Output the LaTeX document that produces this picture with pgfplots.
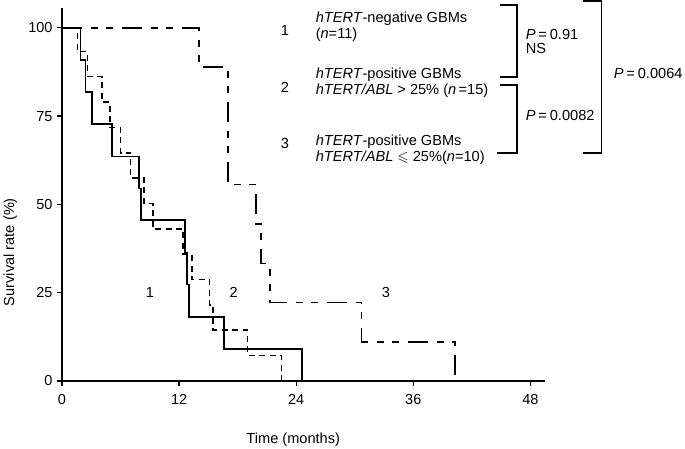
\documentclass[border=0pt]{standalone}
\usepackage{amssymb}
\usepackage{fontspec}
\setmainfont{Liberation Sans}
\usepackage{pgfplots}
\pgfplotsset{compat=1.18}

\begin{document}
\begin{tikzpicture}[font=\fontsize{14.6}{17}\selectfont]
  \useasboundingbox (-62pt,-67pt) rectangle (623pt,381pt);
  \begin{axis}[at={(0pt,0pt)}, anchor=south west, scale only axis,
      width=483pt, height=373pt,
      xmin=0, xmax=49.5, ymin=0, ymax=105.6,
      axis lines=left, axis line style={line width=1.6pt, -},
      xtick={0,12,24,36,48}, ytick={0,25,50,75,100},
      tick align=outside, major tick length=5pt,
      tick style={line width=1.3pt, black},
      tick label style={font=\fontsize{14.5}{17}\selectfont},
      xticklabel style={yshift=-5pt},
      yticklabel style={xshift=-1pt},
      /pgf/number format/assume math mode=true,
      xlabel={Time (months)}, ylabel={Survival rate (\%)},
      x label style={at={(axis cs:23.7,-16.7)}, anchor=center},
      y label style={at={(axis cs:-5.3,36.5)}, anchor=center},
      clip=false]

    % 1: hTERT-negative (solid)
    \addplot[black, line width=1.7pt] coordinates {
      (0,100) (1.9,100) (1.9,90.9) (2.4,90.9) (2.4,81.8) (3.1,81.8)
      (3.1,72.7) (5.1,72.7) (5.1,63.6) (7.9,63.6) (7.9,54.5) (8.1,54.5)
      (8.1,45.5) (12.6,45.5) (12.6,36.4) (12.8,36.4) (12.8,27.3) (13.0,27.3)
      (13.0,18.2) (16.6,18.2) (16.6,9.1) (24.6,9.1) (24.6,0)
    };

    % 2: hTERT/ABL > 25% (short dashes)
    \addplot[black, line width=1.6pt, dash pattern=on 6pt off 4.5pt] coordinates {
      (0,100) (1.6,100) (1.6,93.3) (2.6,93.3) (2.6,86.2) (4.1,86.2)
      (4.1,79.0) (4.9,79.0) (4.9,71.8) (6.0,71.8) (6.0,64.6) (7.0,64.6)
      (7.0,57.4) (8.4,57.4) (8.4,50.3) (9.3,50.3) (9.3,43.1) (12.4,43.1)
      (12.4,35.9) (13.3,35.9) (13.3,28.7) (15.1,28.7) (15.1,21.5) (15.5,21.5)
      (15.5,14.4) (19.0,14.4) (19.0,7.2) (22.5,7.2) (22.5,0)
    };

    % 3: hTERT/ABL <= 25% (long and short dashes)
    \addplot[black, line width=1.6pt,
        dash pattern=on 20pt off 9pt on 7pt off 8pt on 7pt off 9pt] coordinates {
      (0,100) (14.05,100) (14.05,88.9) (17.0,88.9) (17.0,55.6) (19.9,55.6)
      (19.9,44.4) (20.4,44.4) (20.4,33.3) (21.3,33.3) (21.3,22.2) (30.7,22.2)
      (30.7,11.1) (40.3,11.1) (40.3,0)
    };

    \node at (axis cs:9.0,25) {1};
    \node at (axis cs:17.6,25) {2};
    \node at (axis cs:33.2,25) {3};
  \end{axis}

  \begin{scope}[x=1pt, y=1pt, line width=1.5pt]
    % group labels
    \node[anchor=base west, inner sep=0pt] at (218,345) {1};
    \node[anchor=base west, inner sep=0pt] at (253,358) {\textit{hTERT}-negative GBMs};
    \node[anchor=base west, inner sep=0pt] at (253,342.2) {(\textit{n}=11)};
    \node[anchor=base west, inner sep=0pt] at (253,302.2) {\textit{hTERT}-positive GBMs};
    \node[anchor=base west, inner sep=0pt] at (218,288.7) {2};
    \node[anchor=base west, inner sep=0pt] at (253,286.5) {\textit{hTERT/ABL} > 25\% (\textit{n}\,=15)};
    \node[anchor=base west, inner sep=0pt] at (218,232.7) {3};
    \node[anchor=base west, inner sep=0pt] at (253,236) {\textit{hTERT}-positive GBMs};
    \node[anchor=base west, inner sep=0pt] at (253,219.8) {\textit{hTERT/ABL} $\leqslant$ 25\%(\textit{n}=10)};

    % brackets and P values
    \draw (438,376) -- (455,376) -- (455,304) -- (438,304);
    \draw (438,296) -- (455,296) -- (455,228) -- (435,228);
    \draw (521,380) -- (539.7,380) -- (539.7,228) -- (521,228);
    \node[anchor=base west, inner sep=0pt] at (463,341.7) {\textit{P}\hspace{0.2em}=\hspace{0.2em}0.91};
    \node[anchor=base west, inner sep=0pt] at (463,327) {NS};
    \node[anchor=base west, inner sep=0pt] at (463,260.3) {\textit{P}\hspace{0.2em}=\hspace{0.2em}0.0082};
    \node[anchor=base west, inner sep=0pt] at (551,302.7) {\textit{P}\hspace{0.2em}=\hspace{0.2em}0.0064};
  \end{scope}
\end{tikzpicture}
\end{document}
